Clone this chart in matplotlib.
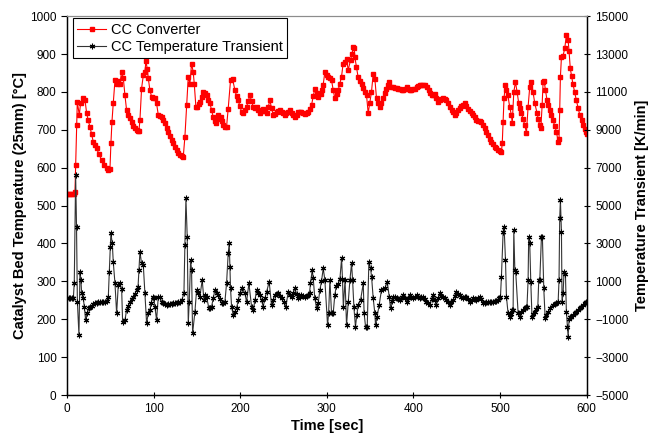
import matplotlib
matplotlib.use("Agg")
import matplotlib.pyplot as plt

plt.rcParams.update({
    "font.family": ["Liberation Sans", "DejaVu Sans"],
    "font.size": 8.5,
})

# CC Converter, catalyst bed temperature [degC] (left axis)
conv_t = [0, 2, 4, 6, 8, 9.2, 10.0, 11.1, 11.9, 14.2, 15.7, 18.1, 20.7, 22.7, 24.5, 26.5, 28.5,
          30.4, 32.3, 34.2, 37, 40, 43, 45.7, 47.7, 49.6, 50.7, 51.9, 53.4, 55.4, 57.3, 59.2,
          61.1, 63.1, 65.0, 66.9, 68.8, 70.7, 72.7, 74.6, 76.5, 78.5, 80.4, 82, 83.1, 84.2,
          86.1, 88.1, 90.0, 91.1, 92.7, 93.8, 95.7, 97.7, 99.6, 101.5, 103.4, 105.4, 107.3,
          109.2, 111.1, 113.1, 115, 116.9, 118.8, 120.7, 122.7, 124.6, 126.5, 128.4, 130.4,
          132.3, 134.2, 136.1, 138.1, 140.0, 141.9, 143.8, 145.7, 146.9, 148.8, 150.4, 152,
          153.4, 155.4, 157.3, 159.2, 161.1, 163, 165.0, 166.9, 168.8, 170.4, 171.9, 173.3,
          174.6, 177.3, 178.8, 180.4, 182.3, 184.2, 186.1, 188.8, 191.1, 193.8, 195.7, 197.7,
          199.6, 201.5, 203.5, 205.4, 207.3, 209.2, 211.1, 213, 215, 217, 218.8, 220.7, 222.7,
          224.6, 226.5, 228.5, 230.4, 232.3, 234.2, 236.1, 238.1, 240, 242, 243.8, 245.7,
          247.7, 249.6, 251.5, 253.4, 255.4, 257.3, 259.2, 261.2, 263.1, 265, 266.9, 268.8,
          270.7, 272.7, 274.6, 276.5, 278.5, 280.4, 282.3, 284.2, 286.1, 288.1, 290, 292.7,
          294.2, 295.7, 297.7, 299.6, 301.5, 303.5, 305.4, 307.3, 309.2, 311.2, 313.1, 315,
          316.9, 318.8, 320.8, 322.7, 324.6, 327.3, 329, 330.4, 331.5, 332.3, 334.2, 336, 338,
          340, 342, 344, 345.8, 347.7, 349.6, 351.5, 353.5, 355.4, 357.3, 359.2, 361, 363, 365,
          367, 368.8, 370.4, 372, 374.6, 376.5, 378.5, 380.4, 382.3, 384.2, 386.2, 388, 390,
          392, 394, 395.8, 397.7, 399.6, 401.5, 403.5, 405.4, 407.3, 409.2, 411.2, 413, 415.8,
          417.7, 419.6, 420.8, 422.7, 424.6, 426.5, 428.5, 430.4, 432.3, 434.2, 436.2, 438,
          440, 442, 444, 446, 447.7, 449.6, 451.5, 453.5, 455.4, 457.3, 459, 461, 463, 465,
          467, 468.8, 470.8, 472.7, 474.6, 476.5, 478.5, 480.4, 482.3, 484, 486, 488, 490, 492,
          494, 495.8, 497.7, 499.6, 501.5, 502.5, 503.5, 504.5, 506, 507.3, 509, 511, 513, 514,
          515.8, 517.7, 519.6, 521.5, 523, 524.6, 526.5, 528.5, 530.4, 532.3, 534.2, 536, 538,
          540, 542.7, 544, 545.8, 547, 548.5, 549.6, 550.8, 552.3, 554.2, 555.8, 557.3, 559,
          561, 563, 565, 567, 568, 568.8, 569.6, 570.8, 572.7, 574.6, 576.5, 578.5, 579.6, 581,
          582.5, 584, 586, 588, 590, 592, 594, 595.8, 597.5, 598.8, 600]
conv_v = [530, 530, 530, 530, 530, 535, 607, 712, 774, 739, 770, 783, 780, 744, 725, 708, 688,
          668, 660, 651, 635, 620, 608, 598, 594, 596, 664, 721, 770, 831, 820, 830,
          822, 853, 837, 791, 752, 740, 730, 720, 710, 704, 699, 697, 698, 726,
          809, 844, 853, 882, 860, 837, 805, 787, 785, 783, 770, 739, 737,
          735, 726, 717, 706, 695, 685, 674, 664, 655, 646, 638, 634,
          630, 628, 681, 765, 840, 822, 875, 853, 822, 761, 761, 768,
          774, 787, 800, 796, 791, 780, 770, 752, 734, 724, 717, 728,
          739, 735, 722, 712, 708, 708, 756, 831, 835, 805, 790, 778,
          762, 748, 745, 752, 761, 775, 791, 776, 761, 758, 761, 752, 744,
          750, 756, 750, 744, 760, 778, 758, 739, 742, 748, 750, 752,
          748, 744, 740, 744, 748, 752, 745, 738, 735, 740, 746, 748,
          746, 744, 743, 744, 748, 755, 765, 788, 809, 798, 787, 795,
          806, 818, 853, 846, 840, 836, 831, 805, 783, 794, 805, 822,
          840, 875, 880, 888, 858, 884, 900, 918, 915, 892, 866, 840, 830,
          822, 810, 800, 791, 744, 772, 800, 848, 835, 783, 772, 761, 772, 783,
          796, 809, 818, 826, 813, 812, 811, 810, 809, 808, 806, 805, 809,
          813, 809, 805, 806, 808, 809, 812, 815, 818, 818, 818, 818, 813,
          805, 796, 791, 793, 795, 785, 774, 778, 781, 783, 781, 778,
          770, 761, 753, 746, 739, 745, 752, 757, 762, 766, 770, 763, 756, 750,
          745, 739, 733, 726, 724, 723, 721, 712, 704, 695, 686, 677, 668, 662,
          656, 651, 648, 645, 642, 666, 721, 783, 818, 805, 791, 761, 739, 717,
          800, 826, 800, 770, 757, 744, 728, 712, 692, 761, 813, 826, 800,
          770, 744, 728, 712, 704, 765, 826, 830, 805, 778, 765, 752, 739,
          726, 710, 695, 668, 677, 752, 840, 892, 896, 915, 950, 937, 907, 862,
          842, 822, 800, 778, 758, 739, 725, 712, 702, 695, 690]

# CC temperature transient [K/min] (right axis)
trans_t = [0, 2, 4, 6, 7.3, 8.4, 10, 11, 12, 13.8, 15, 16.1, 16.9, 18.8, 20, 21.5, 23.4, 25.4,
           27, 28.4, 30.3, 32.3, 34.2, 36.2, 38.1, 40, 42, 43.8, 45.7, 47.7, 48.8, 50, 50.7,
           52.3, 53.4, 55.4, 57.3, 59.2, 61.1, 63.1, 64.2, 66.9, 68.8, 70.7, 72.7, 74.6, 76.5,
           78.5, 80.4, 82, 83.1, 84.2, 86.1, 88.1, 90, 91.9, 93.8, 95.7, 97.2, 98.8, 100.2,
           101.5, 103.4, 105.4, 107.3, 109.2, 111.1, 113, 115, 117, 119, 121, 122.7, 124.6,
           126.5, 128.5, 130.4, 132.5, 135, 136.1, 137.3, 138.8, 140, 141.1, 142.7, 143.8, 145,
           147.7, 149.6, 151.5, 153.4, 156.1, 158.1, 159.6, 161.1, 163.8, 165.5, 166.9, 168.8,
           170.7, 172.7, 174.6, 176.5, 178.4, 180.4, 182.3, 184.2, 186.1, 187.3, 188.1, 188.8,
           190, 191.9, 193.8, 195.7, 197.7, 199.6, 202.3, 205.4, 207.3, 210, 213.1, 215, 217,
           218.8, 220.7, 222.7, 224.6, 226.5, 228.5, 230.4, 233.4, 236.1, 238, 240, 241.9,
           243.8, 245.7, 247.7, 250, 252.7, 255.4, 257.3, 259.2, 261.2, 263.1, 265, 266.9,
           268.8, 270.7, 272.7, 274.6, 276.5, 278.4, 280, 281.1, 283.1, 284.2, 286.1, 288.1,
           290, 291.9, 293.8, 295.8, 297.7, 300.8, 302, 303.5, 305.4, 307.3, 309.2, 311, 313,
           315, 317, 318, 319, 321, 322.7, 324.7, 326.6, 328.5, 329.7, 331.2, 333, 334.5, 336.2,
           338.9, 342, 343, 344.7, 346.6, 348.5, 350.4, 351.6, 353.5, 355.4, 356.2, 358, 360.4,
           363, 365, 367, 369.7, 372, 373.5, 375, 376.6, 378.5, 380.4, 382.3, 384.2, 386.2, 388,
           390, 392, 393.8, 395.8, 397.7, 399.6, 401.5, 403.5, 405.4, 407.3, 409.2, 411, 413,
           415, 417, 419, 420.8, 422.7, 424.6, 426.5, 428.5, 430.4, 432.3, 434.2, 436.2, 438,
           440, 442, 443.8, 445.8, 447.7, 449.6, 451.5, 453.5, 455.4, 457.3, 459.2, 461, 463,
           465, 467, 469, 470.8, 472.7, 474.6, 476.5, 478.5, 480.4, 482.3, 484.2, 486, 488,
           490, 492, 494, 495.8, 497.5, 498.8, 500.4, 501.5, 503.5, 504.6, 506.2, 507.3, 509.2,
           511, 512.5, 513.8, 515, 515.8, 517, 518, 520.8, 522.7, 524.6, 526.5, 528.5, 529.6,
           531, 532.3, 533, 534.2, 535.4, 536.8, 538, 540, 542, 543.5, 544.6, 545.8, 547.7,
           548.8, 550.4, 552, 553.5, 555.5, 558, 560.5, 563, 565, 567, 568, 568.8, 569.6, 570.8,
           571.5, 572.7, 573.8, 575.4, 576.5, 577.7, 578.5, 579.6, 581, 582.3, 584.2, 586.2,
           588, 590, 592, 593.8, 595.8, 597.7, 599.6]
trans_v = [100, 100, 100, 100, 100, 910, 6600, 3880, -80, -1830, 1510, 1070, 380, 120, -340, -1040, -670, -410,
           -330, -300, -220, -150, -130, -110, -100, -95, -90, -80, -30, 190, 1510, 2830, 3530,
           3000, 2040, 890, -690, 800, 890, 600, -1130, -1050, -510, -300, -80, 50, 190,
           350, 540, 700, 1600, 2560, 1950, 1860, 370, -1210, -690, -510, -150, 190, 100,
           -340, -1040, 190, 190, -80, -150, -200, -250, -220, -200, -170, -150, -130,
           -120, -100, -80, 0, 370, 2910, 5380, 3350, -1210, -80, 2120, 1600, -1740,
           -600, 540, 400, 190, 1070, 10, 300, 190, -420, -380, -340, 100,
           540, 400, 280, 50, -150, -120, -80, 890, 2480, 3000, 1770, 630,
           -340, -780, -600, -410, 0, 370, 630, 370, -80, 890, -340, -510, 0,
           540, 400, 280, 0, -340, 100, 450, 980, -250, 0, 280, 330,
           370, 250, 100, -100, -340, 450, 300, 190, 400, 630, 350, 100,
           200, 280, 230, 190, 230, 280, 400, 890, 1600, 1190, 100, -410,
           -150, 540, 1000, 1690, 1070, -1310, -690, 1070, -690, -690, 300, 780, 870,
           1100, 2210, 1150, -340, 1070, -1310, -70, 1070, 1950, 1070, -340, -1400, -800, -250,
           10, 890, -690, -1400, -1400, 2040, 1690, 1250, 100, -690, -1310, -860, -250,
           540, 580, 630, 980, 190, -430, -50, 190, 150, 100, 50, 10, 150, 280, 100,
           -80, 100, 280, 200, 100, 150, 280, 200, 100, 150, 190, 50, -80,
           -150, -250, 50, 280, 0, -250, 100, 370, 250, 190, 100, 10, -100,
           -250, -100, 10, 250, 450, 350, 280, 150, 100, 150, 190, 50, -80,
           0, 100, 50, 10, 100, 190, 50, -150, -120, -100, -100, -90, -80,
           -80, -60, -40, 10, 100, 190, 1240, 3620, 3880, 2120, 190, -690, -860,
           -700, -510, -510, 3710, 1600, 1500, -690, -860, -600, -500, -400, -340, -340,
           1070, 3350, 3000, 980, -860, -700, -600, -450, -340, 1070, 1070, 3350, 3350,
           630, -950, -750, -600, -400, -250, -200, -150, -80, 1070, 4320, 5290, 3620,
           -80, 370, 1500, 1400, -600, -1400, -1920, -1000, -900, -860, -760, -690,
           -600, -510, -420, -340, -240, -130, -80]

fig = plt.figure(figsize=(6.6, 4.37), dpi=100)
ax = fig.add_axes([0.1015, 0.096, 0.7875, 0.867])
ax2 = ax.twinx()

ax.plot(conv_t, conv_v, color='red', marker='s', markersize=3.2, linewidth=0.8,
        label='CC Converter', zorder=3)
ax2.plot(trans_t, trans_v, color='#333333', marker=(6, 2, 0), markersize=4,
         markeredgewidth=0.8, markeredgecolor='black', linewidth=0.8,
         label='CC Temperature Transient')

ax.set_xlim(0, 600)
ax.set_ylim(0, 1000)
ax2.set_ylim(-5000, 15000)
ax.set_xticks(range(0, 601, 100))
ax.set_yticks(range(0, 1001, 100))
ax2.set_yticks(range(-5000, 15001, 2000))

ax.tick_params(axis='x', direction='inout', length=5, width=0.8, labelsize=8.5, pad=3)
ax.tick_params(axis='y', direction='out', length=4, width=0.8, labelsize=8.5)
ax2.tick_params(axis='y', direction='inout', length=5, width=0.8, labelsize=8.5)

for a in (ax, ax2):
    a.spines['top'].set_color('#8c8c8c')
    a.spines['left'].set_linewidth(0.9)
    a.spines['right'].set_linewidth(0.9)
    a.spines['bottom'].set_linewidth(0.9)

ax.set_xlabel('Time [sec]', fontweight='bold', fontsize=10.5, labelpad=3)
ax.set_ylabel('Catalyst Bed Temperature (25mm) [°C]', fontweight='bold', fontsize=10.5, labelpad=2)
ax2.set_ylabel('Temperature Transient [K/min]', fontweight='bold', fontsize=10.5, labelpad=5)

handles = ax.get_lines() + ax2.get_lines()
leg = ax2.legend(handles, [h.get_label() for h in handles], loc='upper left',
                 bbox_to_anchor=(0.008, 0.998), fontsize=10.5, fancybox=False,
                 edgecolor='black', framealpha=1, borderaxespad=0.1,
                 handlelength=2.0, handletextpad=0.3, labelspacing=0.2,
                 borderpad=0.3)
leg.get_frame().set_linewidth(0.8)

fig.savefig('out.png', dpi=100)
